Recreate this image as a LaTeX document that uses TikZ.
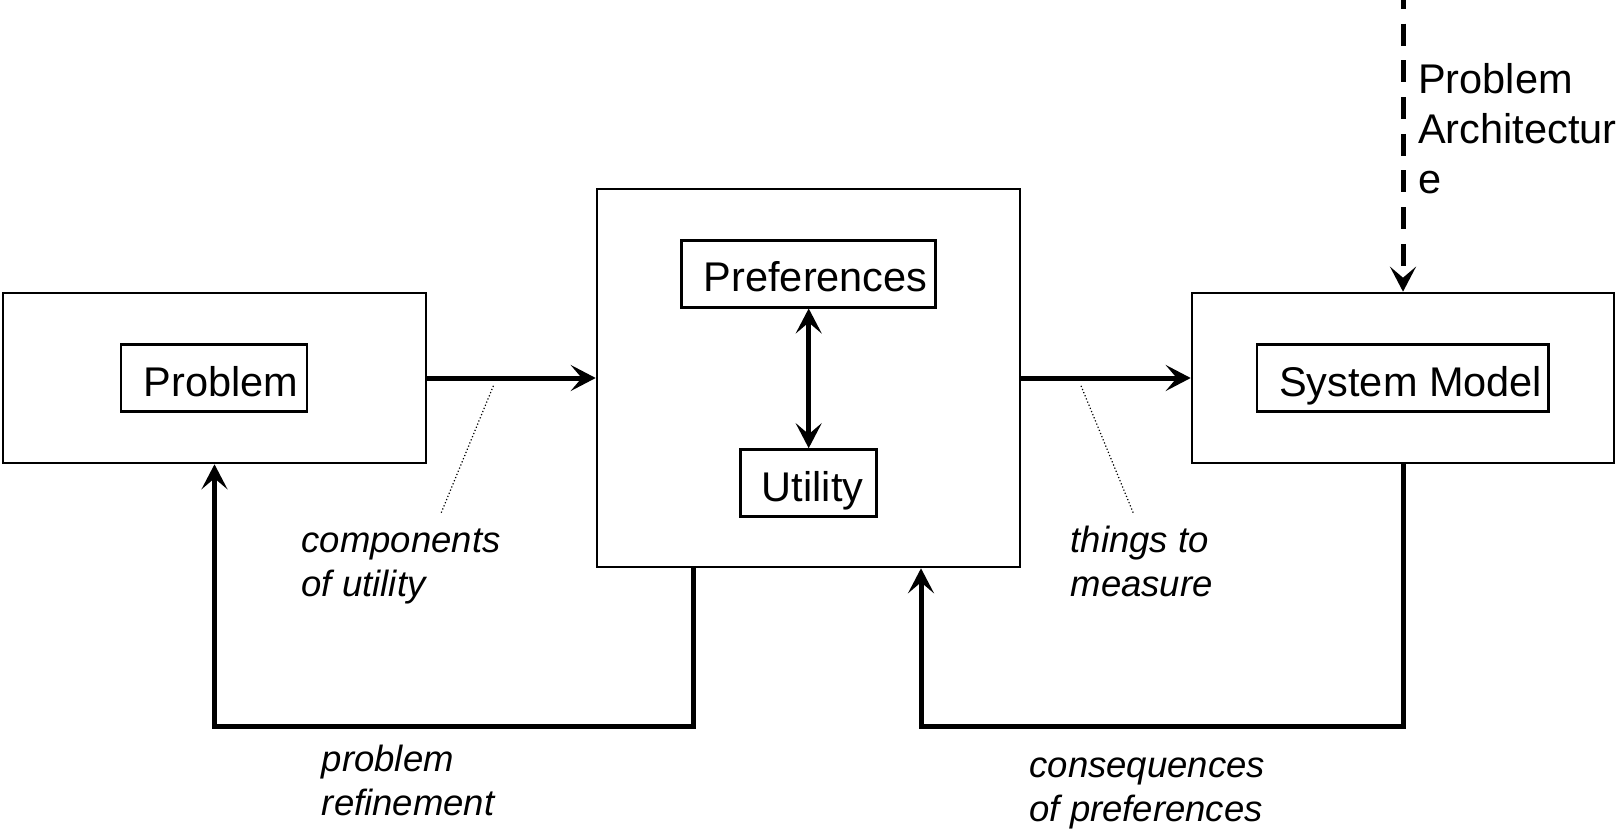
\documentclass[tikz,border=0pt]{standalone}
\usepackage{fontspec}
\setmainfont{Liberation Sans}
\usetikzlibrary{arrows.meta}
\begin{document}
\begin{tikzpicture}[x=1pt,y=-1pt,
  outerbox/.style={draw, line width=2.6pt, inner sep=0pt},
  innerbox/.style={draw, line width=2.6pt, inner sep=0pt, minimum height=67pt,
    text height=36pt, text depth=0pt, font=\fontsize{41.5}{50}\selectfont},
  tipa/.tip={Stealth[length=25pt,width=26pt,inset=11pt]},
  flow/.style={line width=5pt, -tipa},
  leader/.style={line width=1.2pt, dash pattern=on 1.2pt off 2.2pt},
  lbl/.style={font=\fontsize{36.5}{43.5}\selectfont\itshape, align=left, anchor=base west, inner sep=0pt},
  biglbl/.style={font=\fontsize{41.5}{50}\selectfont, align=left, anchor=base west, inner sep=0pt}]
\useasboundingbox (0,0) rectangle (1622,829);

% boxes
\node[outerbox, minimum width=423pt, minimum height=170pt] (probOuter) at (214.5,378) {};
\node[innerbox, minimum width=186pt] (prob) at (214,378) {\hspace*{14pt}Problem};
\node[outerbox, minimum width=423pt, minimum height=378pt] (mid) at (808.5,378) {};
\node[innerbox, minimum width=254pt] (pref) at (808.7,273.7) {\hspace*{14pt}Preferences};
\node[innerbox, minimum width=136pt] (util) at (808.7,483) {\hspace*{8pt}Utility};
\node[outerbox, minimum width=422pt, minimum height=170pt] (sysOuter) at (1403,378) {};
\node[innerbox, minimum width=291.5pt] (sys) at (1402.7,378) {\hspace*{16pt}System Model};

% main flow
\draw[flow] (probOuter.east) -- (mid.west);
\draw[flow] (mid.east) -- (sysOuter.west);
\draw[line width=5pt, tipa-tipa] (pref.south) -- (util.north);

% problem architecture
\coordinate (paTop) at (1403,-3);
\draw[flow, dash pattern=on 22pt off 14.7pt, dash phase=10pt] (paTop) -- (sysOuter.north);
\node[biglbl] (paLabel) at (1418,193.5) {Problem\\Architectur\\e};

% feedback loops
\coordinate (l1a) at (693,726);
\coordinate (l1b) at (214.5,726);
\draw[flow] (mid.south -| l1a) -- (l1a) -- (l1b) -- (probOuter.south);
\coordinate (l2a) at (1403,726);
\coordinate (l2b) at (921,726);
\draw[flow] (sysOuter.south) -- (l2a) -- (l2b) -- (mid.south -| l2b);

% dotted leaders
\coordinate (d1a) at (493.4,385.8);
\coordinate (d1b) at (440.7,514);
\draw[leader] (d1a) -- (d1b);
\coordinate (d2a) at (1081,385.8);
\coordinate (d2b) at (1133.7,514);
\draw[leader] (d2a) -- (d2b);

% labels (base anchor = last line)
\node[lbl] (lblComp) at (301.5,596) {components\\of utility};
\node[lbl] (lblThings) at (1070.5,596) {things to\\measure};
\node[lbl] (lblRef) at (321.7,815) {problem\\refinement};
\node[lbl] (lblCons) at (1029.3,821) {consequences\\of preferences};
\end{tikzpicture}
\end{document}
